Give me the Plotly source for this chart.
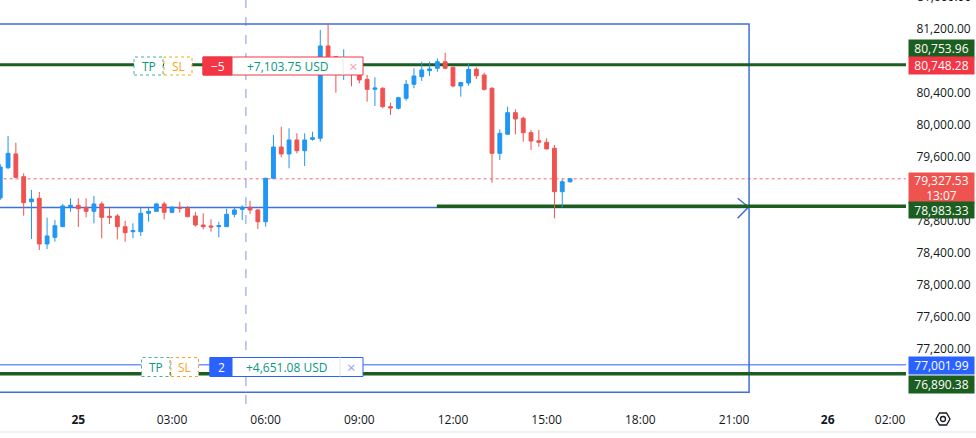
import pandas as pd
import plotly.graph_objects as go

# 15 minute BTC candles, 24th 21:30 -> 25th 15:45
bar_start = "2025-02-24 21:30"
opens = [79088, 79466, 79638, 79354, 79041, 79084, 78513, 78596, 78729, 78979,
         78996, 78971, 78921, 79013, 78859, 78863, 78729, 78666, 78666, 78896,
         78921, 79013, 78909, 78971, 78959, 78863, 78750, 78738, 78729, 78729,
         78884, 78946, 78971, 78938, 78791, 79334, 79725, 79638, 79813, 79679,
         79821, 79834, 80988, 80854, 80688, 80788, 80638, 80571, 80446, 80459,
         80229, 80209, 80334, 80509, 80604, 80679, 80709, 80791, 80721, 80488,
         80525, 80696, 80625, 80459, 79646, 79884, 80154, 80084, 79904, 79804,
         79784, 79709, 79166, 79291]
highs = [79513, 79863, 79779, 79396, 79188, 79163, 78841, 78813, 79013, 79084,
         79084, 79084, 79113, 79041, 78959, 78888, 78804, 78771, 78979, 78963,
         79029, 79041, 78988, 79041, 78988, 78913, 78896, 78821, 78791, 78954,
         78979, 78996, 79054, 78946, 79340, 79875, 79979, 79959, 79896, 79896,
         79916, 81188, 81270, 80863, 80946, 80813, 80663, 80625, 80596, 80471,
         80279, 80354, 80563, 80709, 80791, 80791, 80834, 80904, 80729, 80538,
         80779, 80721, 80654, 80471, 79946, 80229, 80196, 80104, 79938, 79938,
         79834, 79750, 79321, 79334]
lows = [79063, 79450, 79338, 78866, 78575, 78438, 78450, 78541, 78725, 78916,
        78725, 78846, 78771, 78584, 78763, 78571, 78541, 78584, 78613, 78791,
        78921, 78821, 78896, 78904, 78846, 78729, 78696, 78666, 78596, 78729,
        78846, 78813, 78888, 78700, 78729, 79321, 79596, 79459, 79646, 79488,
        79804, 79791, 80788, 80404, 80563, 80484, 80521, 80291, 80238, 80209,
        80125, 80196, 80304, 80459, 80550, 80613, 80666, 80696, 80471, 80354,
        80491, 80575, 80429, 79279, 79563, 79884, 79884, 79791, 79688, 79729,
        79700, 78834, 78971, 79279]
closes = [79475, 79646, 79346, 79029, 79075, 78513, 78613, 78741, 78988, 78996,
          78954, 78921, 79013, 78846, 78846, 78729, 78654, 78679, 78896, 78921,
          79013, 78909, 78971, 78959, 78854, 78750, 78729, 78725, 78741, 78884,
          78938, 78971, 78938, 78791, 79334, 79725, 79638, 79813, 79679, 79813,
          79841, 80988, 80854, 80713, 80788, 80638, 80563, 80446, 80463, 80229,
          80213, 80341, 80509, 80613, 80688, 80700, 80791, 80709, 80488, 80531,
          80696, 80616, 80446, 79646, 79896, 80154, 80075, 79904, 79800, 79784,
          79700, 79166, 79291, 79327.53]

# horizontal levels drawn on the chart
last_price = 79327.53
countdown = "13:07"
short_entry = 80748.28
short_target = 80753.96
long_entry = 77001.99
long_target = 76890.38
support_level = 78983.33
path_level = 78968
box_top, box_bottom = 81262, 76660
short_qty, short_pnl = "\u22125", "+7,103.75 USD"
long_qty, long_pnl = "2", "+4,651.08 USD"

x_ticks = ["2025-02-25 00:00", "2025-02-25 03:00", "2025-02-25 06:00",
           "2025-02-25 09:00", "2025-02-25 12:00", "2025-02-25 15:00",
           "2025-02-25 18:00", "2025-02-25 21:00", "2025-02-26 00:00",
           "2025-02-26 02:00"]
x_labels = ["<b>25</b>", "03:00", "06:00", "09:00", "12:00", "15:00",
            "18:00", "21:00", "<b>26</b>", "02:00"]

UP, DOWN = "#2196f3", "#ef5350"
GREEN, RED, BLUE = "#1b5e20", "#f23645", "#2962ff"
TEAL, ORANGE = "#089981", "#f5a623"
FONT = "Open Sans"
PW, PH = 906, 404  # plot area in pixels


def px(x):
    return x / PW


def py(y):
    return 1 - y / PH


times = pd.date_range(bar_start, periods=len(opens), freq="15min")

fig = go.Figure(go.Candlestick(
    x=times, open=opens, high=highs, low=lows, close=closes,
    increasing=dict(line=dict(color=UP, width=1), fillcolor=UP),
    decreasing=dict(line=dict(color=DOWN, width=1), fillcolor=DOWN),
    showlegend=False, hoverinfo="skip"))

far_left, far_right = "2025-02-24 12:00", "2025-02-26 12:00"
box_right = "2025-02-25 21:29"


def hline(y, color, width, x0=far_left, x1=far_right, dash=None):
    fig.add_shape(type="line", x0=x0, x1=x1, y0=y, y1=y, xref="x", yref="y",
                  line=dict(color=color, width=width, dash=dash), layer="below")


# drawings
fig.add_shape(type="rect", x0=far_left, x1=box_right, y0=box_bottom, y1=box_top,
              line=dict(color="#3f6fdc", width=1.5), layer="below")
fig.add_shape(type="line", x0="2025-02-25 05:22", x1="2025-02-25 05:22",
              y0=0, y1=1, xref="x", yref="paper",
              line=dict(color="#a9bde6", width=1.5, dash="dash"), layer="below")
hline(last_price, "rgba(242,54,69,0.75)", 1, dash="dot")
hline(path_level, "#3f6fdc", 1.5, x1="2025-02-25 21:28")
fig.add_shape(type="path", xref="x", yref="y", layer="below",
              path="M 2025-02-25_21:07,79084 L 2025-02-25_21:28,78975 "
                   "L 2025-02-25_21:07,78834",
              line=dict(color="#3f6fdc", width=1.5))
hline(support_level, GREEN, 3.5, x0="2025-02-25 11:29")
hline(short_entry, RED, 1)
hline(short_target, GREEN, 3)
hline(long_entry, BLUE, 1)
hline(long_target, GREEN, 3.5)


def box(x0, x1, y0, y1, fill="white", line=None, dash=None, width=1):
    fig.add_shape(type="rect", xref="paper", yref="paper",
                  x0=px(x0), x1=px(x1), y0=py(y1), y1=py(y0),
                  fillcolor=fill, layer="above",
                  line=dict(color=line or fill, width=width, dash=dash))


def text(x, y, s, color, size=12, xref="paper", yref="paper",
         xanchor="center", yanchor="middle", **kw):
    fig.add_annotation(x=px(x) if xref == "paper" else x,
                       y=py(y) if yref == "paper" else y,
                       xref=xref, yref=yref, text=s, showarrow=False,
                       xanchor=xanchor, yanchor=yanchor,
                       font=dict(family=FONT, size=size, color=color), **kw)


# position labels (short above, long below)
for (y0, y1, tp, sl, grp, qty_end, div, color, xcol, qty, pnl) in [
        (57, 75, (134, 163), (164, 192), (203, 363), 232, 343, RED, "#f4a3ab",
         short_qty, short_pnl),
        (357.5, 376.5, (141.5, 170), (171, 198.5), (210, 363), 232, 340, BLUE,
         "#8ea6ee", long_qty, long_pnl)]:
    ym = (y0 + y1) / 2
    box(*tp, y0, y1, line="#43b39e", dash="dot")
    box(*sl, y0, y1, line=ORANGE, dash="dot")
    box(*grp, y0, y1, line=color)
    box(grp[0], qty_end, y0, y1, fill=color)
    fig.add_shape(type="line", xref="paper", yref="paper", layer="above",
                  x0=px(div), x1=px(div), y0=py(y1), y1=py(y0),
                  line=dict(color="#e3e6ee", width=1))
    text((tp[0] + tp[1]) / 2, ym, "TP", TEAL)
    text((sl[0] + sl[1]) / 2, ym, "SL", ORANGE)
    text((grp[0] + qty_end) / 2, ym, qty, "white")
    text((qty_end + div) / 2, ym, pnl, TEAL)
    text((div + grp[1]) / 2, ym, "\u00d7", xcol, size=15)

# price scale labels
for price, label, bg, shift, h in [
        (short_target, f"{short_target:,.2f}", GREEN, 16, 15),
        (short_entry, f"{short_entry:,.2f}", RED, 0, 15),
        (last_price, f"{last_price:,.2f}<br>{countdown}", DOWN, -8.7, 28),
        (support_level, f"{support_level:,.2f}", GREEN, -4, 14),
        (long_entry, f"{long_entry:,.2f}", BLUE, -1, 15),
        (long_target, f"{long_target:,.2f}", GREEN, -11, 15)]:
    text(908, price, label, "white", yref="y", xanchor="left", yshift=shift,
         bgcolor=bg, width=63, height=h, borderpad=1, align="center")
text(915, -3, "81,600.00", "#131722", xanchor="left")

# settings icon and bottom separator
cx, cy = 943, 419
hexagon = [(cx - 7, cy), (cx - 3.5, cy - 6), (cx + 3.5, cy - 6), (cx + 7, cy),
           (cx + 3.5, cy + 6), (cx - 3.5, cy + 6)]
fig.add_shape(type="path", xref="paper", yref="paper", layer="above",
              path="M " + " L ".join(f"{px(a)},{py(b)}" for a, b in hexagon) + " Z",
              line=dict(color="#131722", width=1.3))
fig.add_shape(type="circle", xref="paper", yref="paper", layer="above",
              x0=px(cx - 2.5), x1=px(cx + 2.5), y0=py(cy + 2.5), y1=py(cy - 2.5),
              line=dict(color="#131722", width=1.3))
fig.add_shape(type="line", xref="paper", yref="paper", layer="above",
              x0=0, x1=976 / PW, y0=py(432), y1=py(432),
              line=dict(color="#e0e3eb", width=1))

fig.update_xaxes(type="date", range=["2025-02-24 21:29:30", "2025-02-26 02:30:36"],
                 rangeslider_visible=False, showgrid=False, zeroline=False,
                 tickmode="array", tickvals=x_ticks, ticktext=x_labels,
                 ticks="outside", ticklen=5, tickcolor="rgba(0,0,0,0)",
                 tickfont=dict(family=FONT, size=12, color="#131722"))
fig.update_yaxes(side="right", range=[76512.5, 81562.5], showgrid=False,
                 zeroline=False, tickmode="linear", tick0=0, dtick=400,
                 tickformat=",.2f", ticks="outside", ticklen=7,
                 tickcolor="rgba(0,0,0,0)",
                 tickfont=dict(family=FONT, size=12, color="#131722"))
fig.update_layout(width=976, height=438, margin=dict(l=0, r=70, t=0, b=34),
                  paper_bgcolor="white", plot_bgcolor="white",
                  font=dict(family=FONT), hovermode=False)

# the page's default body margin would push the chart 8px off the window
fig.write_html("out.html", config={"displayModeBar": False},
               post_script="document.body.style.margin = '0';")
